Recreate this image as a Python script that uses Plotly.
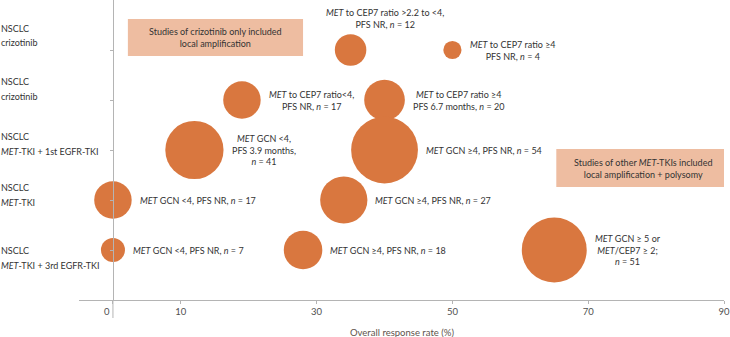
import numpy as np
import plotly.graph_objects as go

# ---- data ----
row_labels = ["NSCLC<br>crizotinib", "NSCLC<br>crizotinib",
              "NSCLC<br><i>MET</i>-TKI + 1st EGFR-TKI", "NSCLC<br><i>MET</i>-TKI",
              "NSCLC<br><i>MET</i>-TKI + 3rd EGFR-TKI"]
row_pos = [5, 4, 3, 2, 1]

orr = [35, 50, 19, 40, 12, 40, 0, 34, 0, 28, 65]
row = [5, 5, 4, 4, 3, 3, 2, 2, 1, 1, 1]
n_pat = [12, 4, 17, 20, 41, 54, 17, 27, 7, 18, 51]
bubble_text = [
    "<i>MET</i> to CEP7 ratio >2.2 to <4,<br>PFS NR, <i>n</i> = 12",
    "<i>MET</i> to CEP7 ratio ≥4<br>PFS NR, <i>n</i> = 4",
    "<i>MET</i> to CEP7 ratio<4,<br>PFS NR, <i>n</i> = 17",
    "<i>MET</i> to CEP7 ratio ≥4<br>PFS 6.7 months, <i>n</i> = 20",
    "<i>MET</i> GCN <4,<br>PFS 3.9 months,<br><i>n</i> = 41",
    "<i>MET</i> GCN ≥4, PFS NR, <i>n</i> = 54",
    "<i>MET</i> GCN <4, PFS NR, <i>n</i> = 17",
    "<i>MET</i> GCN ≥4, PFS NR, <i>n</i> = 27",
    "<i>MET</i> GCN <4, PFS NR, <i>n</i> = 7",
    "<i>MET</i> GCN ≥4, PFS NR, <i>n</i> = 18",
    "<i>MET</i> GCN ≥ 5 or<br><i>MET</i>/CEP7 ≥ 2;<br><i>n</i> = 51",
]
x_ticks = [0, 10, 30, 50, 70, 90]
x_ticktext = ["0\u00a0\u00a0\u00a0\u00a0\u00a0", "10", "30", "50", "70", "90"]
note1 = "Studies of crizotinib only included<br>local amplification"
note2 = "Studies of other <i>MET</i>-TKIs included<br>local amplification + polysomy"
x_title = "Overall response rate (%)"

# ---- style ----
FONT = "Lato"
FS = 9
ORANGE = "#D9773F"
BOX = "#EEBDA1"
TXT = "#333333"
AX = "#B4B4B4"
TICKC = "#505050"
SIZEREF = 0.0242
XR = [-5, 90]
YR = [0, 6]
ML, MR, MT, MB = 79, 6, 0, 37
lab_top = [True] + [False] * 10
row_label_shift = [14.5, 11, 6, 5, -8]
ROW_LH = 14.5

radius = np.sqrt(np.array(n_pat) / (2 * SIZEREF))

fig = go.Figure()
fig.add_trace(go.Scatter(
    x=orr, y=row, mode="markers",
    marker=dict(size=n_pat, sizemode="area", sizeref=SIZEREF, color=ORANGE,
                opacity=1, line=dict(width=0)),
    hoverinfo="skip", showlegend=False))

annotations = []
for xi, yi, t, r, top in zip(orr, row, bubble_text, radius, lab_top):
    if top:
        annotations.append(dict(x=xi, y=yi, xref="x", yref="y", text=t, showarrow=False,
                                xanchor="center", yanchor="bottom", align="center",
                                xshift=34, yshift=r + 2,
                                font=dict(family=FONT, size=FS, color=TXT)))
    else:
        annotations.append(dict(x=xi, y=yi, xref="x", yref="y", text=t, showarrow=False,
                                xanchor="left", yanchor="middle", align="center",
                                xshift=r + 6, yshift=0,
                                font=dict(family=FONT, size=FS, color=TXT)))

for lab, yp, sh in zip(row_labels, row_pos, row_label_shift):
    lines = lab.split("<br>")
    k = len(lines)
    for i, ln in enumerate(lines):
        annotations.append(dict(x=0, y=yp, xref="paper", yref="y", text=ln, showarrow=False,
                                xanchor="left", yanchor="middle", align="left",
                                xshift=-ML - 1,
                                yshift=sh + (k - 1) / 2 * ROW_LH - i * ROW_LH,
                                font=dict(family=FONT, size=FS, color=TXT)))

annotations.append(dict(x=15.1, y=5.25, xref="x", yref="y", text=note1, showarrow=False,
                        xanchor="center", yanchor="middle", align="center",
                        font=dict(family=FONT, size=FS, color=TXT)))
annotations.append(dict(x=78, y=2.64, xref="x", yref="y", text=note2, showarrow=False,
                        xanchor="center", yanchor="middle", align="center",
                        font=dict(family=FONT, size=FS, color=TXT)))
annotations.append(dict(x=0.5, y=0, xref="paper", yref="paper", text=x_title,
                        showarrow=False, xanchor="center", yanchor="middle", yshift=-32,
                        font=dict(family=FONT, size=FS + 0.5, color="#5E534C")))

shapes = [
    dict(type="rect", xref="x", yref="y", x0=2.2, x1=28.0, y0=4.88, y1=5.62,
         fillcolor=BOX, line=dict(width=0), layer="below"),
    dict(type="rect", xref="x", yref="y", x0=65.3, x1=91.0, y0=2.26, y1=3.02,
         fillcolor=BOX, line=dict(width=0), layer="below"),
    dict(type="line", xref="x", yref="paper", x0=0, x1=0, y0=-0.06, y1=0,
         line=dict(color=AX, width=1)),
]

fig.update_layout(
    width=730, height=337,
    margin=dict(l=ML, r=MR, t=MT, b=MB),
    plot_bgcolor="white", paper_bgcolor="white",
    font=dict(family=FONT, size=FS, color=TXT),
    annotations=annotations, shapes=shapes,
    xaxis=dict(range=XR, tickvals=x_ticks, ticktext=x_ticktext, showgrid=False,
               zeroline=False, showline=True, linecolor=AX, linewidth=1,
               ticks="outside", ticklen=3, tickcolor=AX,
               tickfont=dict(family=FONT, size=FS + 0.5, color=TICKC)),
    yaxis=dict(range=YR, tickvals=row_pos, showticklabels=False, showgrid=False,
               zeroline=False, showline=True, linecolor=AX, linewidth=1,
               ticks="outside", ticklen=3, tickcolor=AX,
               anchor="free", position=(0 - XR[0]) / (XR[1] - XR[0])),
)

fig.write_html("out.html", config={"displayModeBar": False},
               post_script="document.body.style.margin='0';")
